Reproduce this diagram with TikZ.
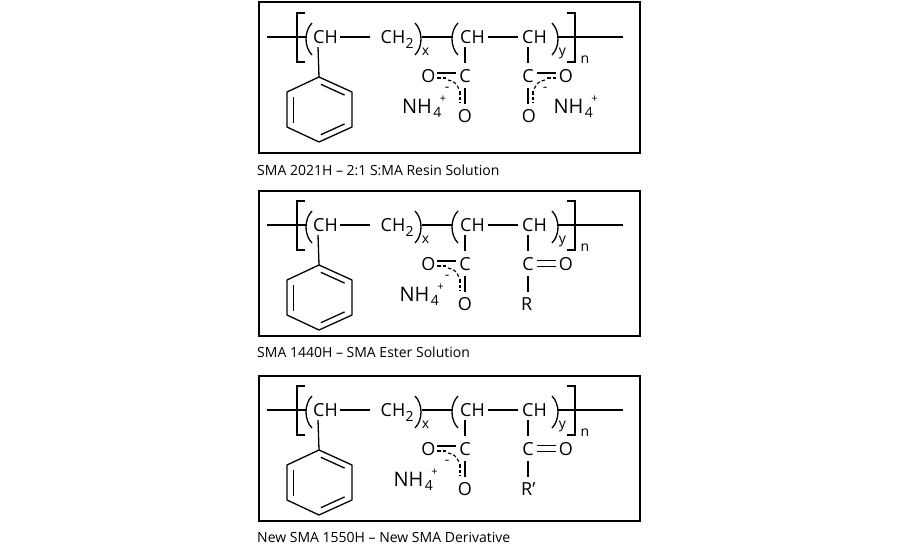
\documentclass[tikz,border=0pt]{standalone}
\usepackage{fontspec}
\setmainfont{Open Sans}
\usetikzlibrary{calc}
\tikzset{
  bond/.style={line width=1.3pt, black},
  dbond/.style={line width=1.1pt, black, dash pattern=on 3.5pt off 2pt},
  atom/.style={inner sep=0pt, font=\fontsize{18}{18}\selectfont},
  bigatom/.style={inner sep=0pt, font=\fontsize{20}{20}\selectfont},
  subs/.style={inner sep=0pt, anchor=base, font=\fontsize{14}{14}\selectfont},
  charge/.style={inner sep=0pt, font=\fontsize{11}{11}\selectfont},
  minus/.style={inner sep=0pt, font=\fontsize{14}{14}\selectfont},
  frame/.style={line width=1.2pt, black},
  caption/.style={inner sep=0pt, anchor=base west, font=\fontsize{14}{14}\selectfont},
}
% common backbone, phenyl ring and left carboxylate; #1 prefix, #2 NH centre x
\newcommand\smaCommon[2]{%
  % chain segments
  \coordinate (#1a0) at (267,37); \coordinate (#1a1) at (306,37);
  \draw[bond] (#1a0) -- (#1a1);
  \coordinate (#1lb1) at (305,13); \coordinate (#1lb2) at (297,13);
  \coordinate (#1lb3) at (297,62); \coordinate (#1lb4) at (305,62);
  \draw[bond] (#1lb1) -- (#1lb2) -- (#1lb3) -- (#1lb4);
  \coordinate (#1p1t) at (312,23); \coordinate (#1p1b) at (312,55);
  \draw[bond] (#1p1t) .. controls (304,31) and (304,47) .. (#1p1b);
  \node[atom] (#1ch1) at (325.5,37) {CH};
  \coordinate (#1b1a) at (340,37); \coordinate (#1b1b) at (370,37);
  \draw[bond] (#1b1a) -- (#1b1b);
  \node[atom] (#1ch2) at (393,37) {CH};
  \node[subs, anchor=center] (#1two) at (409.5,43) {2};
  \coordinate (#1p2t) at (415,23); \coordinate (#1p2b) at (415,55);
  \draw[bond] (#1p2t) .. controls (423,31) and (423,47) .. (#1p2b);
  \node[subs] (#1x) at (425.5,55) {x};
  \coordinate (#1b2a) at (422,37); \coordinate (#1b2b) at (452,37);
  \draw[bond] (#1b2a) -- (#1b2b);
  \coordinate (#1p3t) at (458,23); \coordinate (#1p3b) at (458,55);
  \draw[bond] (#1p3t) .. controls (450,31) and (450,47) .. (#1p3b);
  \node[atom] (#1ch3) at (472.5,37) {CH};
  \coordinate (#1b3a) at (488,37); \coordinate (#1b3b) at (518,37);
  \draw[bond] (#1b3a) -- (#1b3b);
  \node[atom] (#1ch4) at (534.5,37) {CH};
  \coordinate (#1p4t) at (552,23); \coordinate (#1p4b) at (552,55);
  \draw[bond] (#1p4t) .. controls (560,31) and (560,47) .. (#1p4b);
  \node[subs] (#1y) at (562.5,55) {y};
  \coordinate (#1b4a) at (558,37); \coordinate (#1b4b) at (623,37);
  \draw[bond] (#1b4a) -- (#1b4b);
  \coordinate (#1rb1) at (567,13); \coordinate (#1rb2) at (575,13);
  \coordinate (#1rb3) at (575,62); \coordinate (#1rb4) at (567,62);
  \draw[bond] (#1rb1) -- (#1rb2) -- (#1rb3) -- (#1rb4);
  \node[subs] (#1n) at (585,63) {n};
  % phenyl
  \coordinate (#1ph0) at (318,47);
  \coordinate (#1h1) at (319,77); \coordinate (#1h2) at (352,92);
  \coordinate (#1h3) at (352,127); \coordinate (#1h4) at (319,142);
  \coordinate (#1h5) at (287,127); \coordinate (#1h6) at (287,92);
  \coordinate (#1hc) at (319.5,109.5);
  \draw[bond] (#1ph0) -- (#1h1);
  \draw[bond, line join=round] (#1h1) -- (#1h2) -- (#1h3) -- (#1h4) -- (#1h5) -- (#1h6) -- cycle;
  \draw[bond, shorten <=2pt, shorten >=1pt] ($(#1hc)!0.8!(#1h1)$) -- ($(#1hc)!0.8!(#1h2)$);
  \draw[bond, shorten <=1pt, shorten >=2pt] ($(#1hc)!0.8!(#1h3)$) -- ($(#1hc)!0.8!(#1h4)$);
  \draw[bond, shorten <=1pt, shorten >=1pt] ($(#1hc)!0.8!(#1h5)$) -- ($(#1hc)!0.8!(#1h6)$);
  % left carboxylate
  \coordinate (#1v1a) at (465,47); \coordinate (#1v1b) at (465,63);
  \draw[bond] (#1v1a) -- (#1v1b);
  \node[atom] (#1c1) at (465,76) {C};
  \node[atom] (#1o1) at (428.5,76) {O};
  \node[atom] (#1o2) at (465,116) {O};
  \coordinate (#1d1a) at (437,73); \coordinate (#1d1b) at (456,73);
  \draw[bond] (#1d1a) -- (#1d1b);
  \coordinate (#1d2a) at (437,78); \coordinate (#1d2b) at (446,78);
  \draw[dbond] (#1d2a) -- (#1d2b);
  \coordinate (#1d3a) at (448,80); \coordinate (#1d3b) at (459,89);
  \draw[dbond] (#1d3a) .. controls (455,82) .. (#1d3b);
  \node[minus] (#1m1) at (447,89) {-};
  \coordinate (#1d4a) at (465,88); \coordinate (#1d4b) at (465,104);
  \draw[bond] (#1d4a) -- (#1d4b);
  \coordinate (#1d5a) at (460,91); \coordinate (#1d5b) at (460,103);
  \draw[dbond] (#1d5a) -- (#1d5b);
  \node[bigatom] (#1nh) at (#2,106) {NH};
  \node[subs, anchor=base west] (#1four) at ([shift={(1pt,-4.5pt)}]#1nh.base east) {4};
  \node[charge] (#1plus) at ([shift={(11pt,7pt)}]#1nh.east) {+};
}
% right carboxylate salt
\newcommand\smaSalt[1]{%
  \coordinate (#1v2a) at (528,47); \coordinate (#1v2b) at (528,63);
  \draw[bond] (#1v2a) -- (#1v2b);
  \node[atom] (#1c2) at (528,76) {C};
  \node[atom] (#1o3) at (566,76) {O};
  \node[atom] (#1o4) at (529,116) {O};
  \coordinate (#1e1a) at (537,73); \coordinate (#1e1b) at (556,73);
  \draw[bond] (#1e1a) -- (#1e1b);
  \coordinate (#1e2a) at (547,78); \coordinate (#1e2b) at (556,78);
  \draw[dbond] (#1e2a) -- (#1e2b);
  \coordinate (#1e3a) at (545,80); \coordinate (#1e3b) at (534,89);
  \draw[dbond] (#1e3a) .. controls (538,82) .. (#1e3b);
  \node[minus] (#1m2) at (545,89) {-};
  \coordinate (#1e4a) at (528,88); \coordinate (#1e4b) at (528,104);
  \draw[bond] (#1e4a) -- (#1e4b);
  \coordinate (#1e5a) at (533,91); \coordinate (#1e5b) at (533,103);
  \draw[dbond] (#1e5a) -- (#1e5b);
  \node[bigatom] (#1nhb) at (568.5,106) {NH};
  \node[subs, anchor=base west] (#1fourb) at ([shift={(1pt,-4.5pt)}]#1nhb.base east) {4};
  \node[charge] (#1plusb) at ([shift={(11pt,7pt)}]#1nhb.east) {+};
}
% right ester
\newcommand\smaEster[2]{%
  \coordinate (#1v2a) at (528,47); \coordinate (#1v2b) at (528,63);
  \draw[bond] (#1v2a) -- (#1v2b);
  \node[atom] (#1c2) at (528,76) {C};
  \node[atom] (#1o3) at (566,76) {O};
  \coordinate (#1e1a) at (537,72.5); \coordinate (#1e1b) at (556,72.5);
  \draw[bond] (#1e1a) -- (#1e1b);
  \coordinate (#1e2a) at (537,78.5); \coordinate (#1e2b) at (556,78.5);
  \draw[bond] (#1e2a) -- (#1e2b);
  \coordinate (#1e4a) at (528,88); \coordinate (#1e4b) at (528,104);
  \draw[bond] (#1e4a) -- (#1e4b);
  \node[atom, anchor=west] (#1r) at (521,116) {#2};
}
\begin{document}
\begin{tikzpicture}[x=1pt, y=-1pt]
  \useasboundingbox (0,0) rectangle (900,550);
  \fill[white] (0,0) rectangle (900,550);
  % boxes
  \draw[frame] (259,2) rectangle (640,153);
  \draw[frame] (259,191) rectangle (640,336);
  \draw[frame] (259,376) rectangle (640,521);
  % structures
  \begin{scope}
    \smaCommon{A}{417}
    \smaSalt{A}
  \end{scope}
  \begin{scope}[shift={(0,188)}]
    \smaCommon{B}{414.5}
    \smaEster{B}{R}
  \end{scope}
  \begin{scope}[shift={(0,373)}]
    \smaCommon{C}{408.5}
    \smaEster{C}{R’}
  \end{scope}
  % captions
  \node[caption] (cap1) at (257,175) {SMA 2021H – 2:1 S:MA Resin Solution};
  \node[caption] (cap2) at (257,357) {SMA 1440H – SMA Ester Solution};
  \node[caption] (cap3) at (257,542) {New SMA 1550H – New SMA Derivative};
\end{tikzpicture}
\end{document}
